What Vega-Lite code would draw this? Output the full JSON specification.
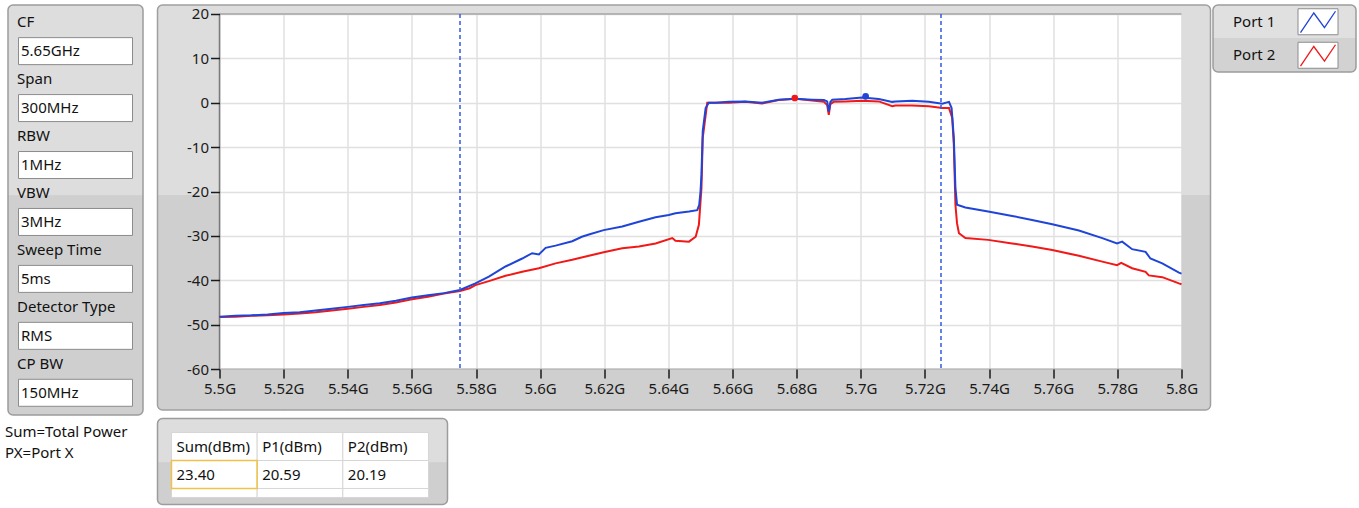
{
  "$schema": "https://vega.github.io/schema/vega-lite/v6.json",
  "background": "white",
  "padding": {"left": 5, "top": 4, "right": 2, "bottom": 0},
  "bounds": "full",
  "spacing": 12.5,
  "datasets": {
    "params": [
      {"param": "CF", "value": "5.65GHz"},
      {"param": "Span", "value": "300MHz"},
      {"param": "RBW", "value": "1MHz"},
      {"param": "VBW", "value": "3MHz"},
      {"param": "Sweep Time", "value": "5ms"},
      {"param": "Detector Type", "value": "RMS"},
      {"param": "CP BW", "value": "150MHz"}
    ],
    "notes": [
      {"note": "Sum=Total Power"},
      {"note": "PX=Port X"}
    ],
    "ports": [
      {"port": "Port 1"},
      {"port": "Port 2"}
    ],
    "results": [
      {"col": "Sum(dBm)", "val": "23.40"},
      {"col": "P1(dBm)", "val": "20.59"},
      {"col": "P2(dBm)", "val": "20.19"}
    ],
    "cursors": [
      {"f": 5.575},
      {"f": 5.725}
    ],
    "peaks": [
      {"port": "Port 2", "f": 5.6794, "db": 1.07},
      {"port": "Port 1", "f": 5.7015, "db": 1.44}
    ],
    "traces": [
      {"port": "Port 1", "f": 5.5, "db": -48.2},
      {"port": "Port 1", "f": 5.505, "db": -48.0},
      {"port": "Port 1", "f": 5.51, "db": -47.9},
      {"port": "Port 1", "f": 5.515, "db": -47.7},
      {"port": "Port 1", "f": 5.52, "db": -47.4},
      {"port": "Port 1", "f": 5.525, "db": -47.2},
      {"port": "Port 1", "f": 5.53, "db": -46.8},
      {"port": "Port 1", "f": 5.535, "db": -46.4},
      {"port": "Port 1", "f": 5.54, "db": -46.0},
      {"port": "Port 1", "f": 5.545, "db": -45.6},
      {"port": "Port 1", "f": 5.55, "db": -45.2},
      {"port": "Port 1", "f": 5.555, "db": -44.6},
      {"port": "Port 1", "f": 5.56, "db": -43.9},
      {"port": "Port 1", "f": 5.565, "db": -43.4},
      {"port": "Port 1", "f": 5.57, "db": -42.9},
      {"port": "Port 1", "f": 5.575, "db": -42.2},
      {"port": "Port 1", "f": 5.5798, "db": -40.7},
      {"port": "Port 1", "f": 5.584, "db": -39.2},
      {"port": "Port 1", "f": 5.5892, "db": -36.9},
      {"port": "Port 1", "f": 5.5944, "db": -35.1},
      {"port": "Port 1", "f": 5.5975, "db": -33.9},
      {"port": "Port 1", "f": 5.5996, "db": -34.2},
      {"port": "Port 1", "f": 5.6017, "db": -32.7},
      {"port": "Port 1", "f": 5.6048, "db": -32.2},
      {"port": "Port 1", "f": 5.61, "db": -31.2},
      {"port": "Port 1", "f": 5.613, "db": -30.2},
      {"port": "Port 1", "f": 5.6152, "db": -29.7},
      {"port": "Port 1", "f": 5.6198, "db": -28.7},
      {"port": "Port 1", "f": 5.6256, "db": -27.9},
      {"port": "Port 1", "f": 5.6308, "db": -26.8},
      {"port": "Port 1", "f": 5.636, "db": -25.8},
      {"port": "Port 1", "f": 5.6401, "db": -25.3},
      {"port": "Port 1", "f": 5.6422, "db": -24.9},
      {"port": "Port 1", "f": 5.6464, "db": -24.5},
      {"port": "Port 1", "f": 5.649, "db": -24.2},
      {"port": "Port 1", "f": 5.6496, "db": -23.0},
      {"port": "Port 1", "f": 5.65, "db": -20.0},
      {"port": "Port 1", "f": 5.6503, "db": -16.2},
      {"port": "Port 1", "f": 5.6507, "db": -6.4},
      {"port": "Port 1", "f": 5.6516, "db": -1.2},
      {"port": "Port 1", "f": 5.6526, "db": 0.0},
      {"port": "Port 1", "f": 5.6547, "db": 0.0},
      {"port": "Port 1", "f": 5.6588, "db": 0.2},
      {"port": "Port 1", "f": 5.664, "db": 0.3},
      {"port": "Port 1", "f": 5.6692, "db": 0.0},
      {"port": "Port 1", "f": 5.6744, "db": 0.7},
      {"port": "Port 1", "f": 5.6796, "db": 0.9},
      {"port": "Port 1", "f": 5.6848, "db": 0.7},
      {"port": "Port 1", "f": 5.6885, "db": 0.6},
      {"port": "Port 1", "f": 5.6895, "db": 0.3},
      {"port": "Port 1", "f": 5.69, "db": -2.0},
      {"port": "Port 1", "f": 5.6905, "db": 0.2},
      {"port": "Port 1", "f": 5.6911, "db": 0.7},
      {"port": "Port 1", "f": 5.6952, "db": 0.85},
      {"port": "Port 1", "f": 5.7004, "db": 1.2},
      {"port": "Port 1", "f": 5.7056, "db": 0.85},
      {"port": "Port 1", "f": 5.7098, "db": 0.2},
      {"port": "Port 1", "f": 5.7108, "db": 0.3},
      {"port": "Port 1", "f": 5.716, "db": 0.45},
      {"port": "Port 1", "f": 5.7212, "db": 0.2},
      {"port": "Port 1", "f": 5.7254, "db": -0.2},
      {"port": "Port 1", "f": 5.7275, "db": 0.2},
      {"port": "Port 1", "f": 5.7283, "db": -1.2},
      {"port": "Port 1", "f": 5.729, "db": -7.9},
      {"port": "Port 1", "f": 5.7295, "db": -19.2},
      {"port": "Port 1", "f": 5.73, "db": -23.0},
      {"port": "Port 1", "f": 5.7326, "db": -23.6},
      {"port": "Port 1", "f": 5.7397, "db": -24.5},
      {"port": "Port 1", "f": 5.7472, "db": -25.5},
      {"port": "Port 1", "f": 5.7534, "db": -26.4},
      {"port": "Port 1", "f": 5.7597, "db": -27.4},
      {"port": "Port 1", "f": 5.768, "db": -28.8},
      {"port": "Port 1", "f": 5.7753, "db": -30.5},
      {"port": "Port 1", "f": 5.7799, "db": -31.7},
      {"port": "Port 1", "f": 5.7815, "db": -31.3},
      {"port": "Port 1", "f": 5.7846, "db": -33.0},
      {"port": "Port 1", "f": 5.7888, "db": -33.6},
      {"port": "Port 1", "f": 5.7903, "db": -35.1},
      {"port": "Port 1", "f": 5.794, "db": -36.2},
      {"port": "Port 1", "f": 5.7992, "db": -38.3},
      {"port": "Port 1", "f": 5.8, "db": -38.5},
      {"port": "Port 2", "f": 5.5, "db": -48.3},
      {"port": "Port 2", "f": 5.505, "db": -48.2},
      {"port": "Port 2", "f": 5.51, "db": -48.0},
      {"port": "Port 2", "f": 5.515, "db": -47.9},
      {"port": "Port 2", "f": 5.52, "db": -47.7},
      {"port": "Port 2", "f": 5.525, "db": -47.5},
      {"port": "Port 2", "f": 5.53, "db": -47.2},
      {"port": "Port 2", "f": 5.535, "db": -46.8},
      {"port": "Port 2", "f": 5.54, "db": -46.4},
      {"port": "Port 2", "f": 5.545, "db": -46.0},
      {"port": "Port 2", "f": 5.55, "db": -45.6},
      {"port": "Port 2", "f": 5.555, "db": -45.0},
      {"port": "Port 2", "f": 5.56, "db": -44.3},
      {"port": "Port 2", "f": 5.565, "db": -43.7},
      {"port": "Port 2", "f": 5.57, "db": -43.0},
      {"port": "Port 2", "f": 5.575, "db": -42.4},
      {"port": "Port 2", "f": 5.578, "db": -41.8},
      {"port": "Port 2", "f": 5.5798, "db": -41.1},
      {"port": "Port 2", "f": 5.584, "db": -40.2},
      {"port": "Port 2", "f": 5.5892, "db": -39.0},
      {"port": "Port 2", "f": 5.5944, "db": -38.1},
      {"port": "Port 2", "f": 5.5996, "db": -37.3},
      {"port": "Port 2", "f": 5.6048, "db": -36.2},
      {"port": "Port 2", "f": 5.61, "db": -35.4},
      {"port": "Port 2", "f": 5.6152, "db": -34.5},
      {"port": "Port 2", "f": 5.6198, "db": -33.7},
      {"port": "Port 2", "f": 5.6256, "db": -32.8},
      {"port": "Port 2", "f": 5.6308, "db": -32.4},
      {"port": "Port 2", "f": 5.636, "db": -31.7},
      {"port": "Port 2", "f": 5.6412, "db": -30.5},
      {"port": "Port 2", "f": 5.6422, "db": -31.1},
      {"port": "Port 2", "f": 5.6464, "db": -31.3},
      {"port": "Port 2", "f": 5.6485, "db": -30.2},
      {"port": "Port 2", "f": 5.6495, "db": -27.5},
      {"port": "Port 2", "f": 5.6503, "db": -19.2},
      {"port": "Port 2", "f": 5.6507, "db": -7.9},
      {"port": "Port 2", "f": 5.6521, "db": 0.0},
      {"port": "Port 2", "f": 5.6547, "db": 0.0},
      {"port": "Port 2", "f": 5.6588, "db": 0.0},
      {"port": "Port 2", "f": 5.664, "db": 0.2},
      {"port": "Port 2", "f": 5.6692, "db": -0.15},
      {"port": "Port 2", "f": 5.6744, "db": 0.6},
      {"port": "Port 2", "f": 5.6796, "db": 0.9},
      {"port": "Port 2", "f": 5.6848, "db": 0.5},
      {"port": "Port 2", "f": 5.6885, "db": 0.2},
      {"port": "Port 2", "f": 5.6895, "db": -0.5},
      {"port": "Port 2", "f": 5.69, "db": -2.7},
      {"port": "Port 2", "f": 5.6905, "db": -0.3},
      {"port": "Port 2", "f": 5.6915, "db": 0.2},
      {"port": "Port 2", "f": 5.6952, "db": 0.3},
      {"port": "Port 2", "f": 5.7004, "db": 0.45},
      {"port": "Port 2", "f": 5.7056, "db": 0.3},
      {"port": "Port 2", "f": 5.7098, "db": -0.8},
      {"port": "Port 2", "f": 5.7108, "db": -0.6},
      {"port": "Port 2", "f": 5.716, "db": -0.6},
      {"port": "Port 2", "f": 5.7212, "db": -0.8},
      {"port": "Port 2", "f": 5.7254, "db": -1.2},
      {"port": "Port 2", "f": 5.7275, "db": -1.2},
      {"port": "Port 2", "f": 5.7285, "db": -3.4},
      {"port": "Port 2", "f": 5.729, "db": -9.5},
      {"port": "Port 2", "f": 5.7295, "db": -23.0},
      {"port": "Port 2", "f": 5.73, "db": -27.2},
      {"port": "Port 2", "f": 5.7306, "db": -29.4},
      {"port": "Port 2", "f": 5.7326, "db": -30.5},
      {"port": "Port 2", "f": 5.7397, "db": -30.9},
      {"port": "Port 2", "f": 5.7472, "db": -31.7},
      {"port": "Port 2", "f": 5.7534, "db": -32.4},
      {"port": "Port 2", "f": 5.7597, "db": -33.2},
      {"port": "Port 2", "f": 5.768, "db": -34.5},
      {"port": "Port 2", "f": 5.7753, "db": -35.8},
      {"port": "Port 2", "f": 5.7799, "db": -36.6},
      {"port": "Port 2", "f": 5.7812, "db": -36.1},
      {"port": "Port 2", "f": 5.7846, "db": -37.3},
      {"port": "Port 2", "f": 5.7888, "db": -38.1},
      {"port": "Port 2", "f": 5.7898, "db": -38.9},
      {"port": "Port 2", "f": 5.794, "db": -39.3},
      {"port": "Port 2", "f": 5.7992, "db": -40.7},
      {"port": "Port 2", "f": 5.8, "db": -40.9}
    ]
  },
  "hconcat": [
    {
      "spacing": 5,
      "bounds": "full",
      "vconcat": [
        {
          "width": 135,
          "height": 410,
          "data": {"name": "params"},
          "layer": [
            {
              "data": {"values": [{"part": "settings panel"}]},
              "mark": {
                "type": "rect",
                "cornerRadius": 5,
                "stroke": "#9c9c9c",
                "strokeWidth": 1.5,
                "fill": {"gradient": "linear", "x1": 0, "y1": 0, "x2": 0, "y2": 1,
                  "stops": [
                    {"offset": 0, "color": "#dddddd"},
                    {"offset": 0.463, "color": "#dddddd"},
                    {"offset": 0.465, "color": "#cfcfcf"},
                    {"offset": 1, "color": "#cfcfcf"}
                  ]}
              },
              "encoding": {
                "x": {"value": 0}, "x2": {"value": "width"},
                "y": {"value": 0}, "y2": {"value": "height"}
              }
            },
            {
              "mark": {"type": "text", "align": "left", "baseline": "middle", "fontSize": 15, "fill": "#111111"},
              "encoding": {
                "x": {"value": 9},
                "y": {"field": "param", "type": "nominal", "sort": null, "axis": null, "bandPosition": 0.2,
                  "scale": {"type": "band", "paddingInner": 0, "paddingOuter": 0.1}},
                "text": {"field": "param"}
              }
            },
            {
              "mark": {"type": "point", "shape": "M-1,-0.2368L1,-0.2368L1,0.2368L-1,0.2368Z", "size": 12996,
                "filled": true, "fill": "white", "stroke": "#8c8c8c", "strokeWidth": 1, "opacity": 1},
              "encoding": {
                "y": {"field": "param", "type": "nominal", "sort": null, "axis": null, "bandPosition": 0.71,
                  "scale": {"type": "band", "paddingInner": 0, "paddingOuter": 0.1}}
              }
            },
            {
              "mark": {"type": "text", "align": "left", "baseline": "middle", "fontSize": 15, "fill": "#111111"},
              "encoding": {
                "x": {"value": 13},
                "y": {"field": "param", "type": "nominal", "sort": null, "axis": null, "bandPosition": 0.71,
                  "scale": {"type": "band", "paddingInner": 0, "paddingOuter": 0.1}},
                "text": {"field": "value"}
              }
            }
          ]
        },
        {
          "width": 135,
          "height": 42,
          "data": {"name": "notes"},
          "mark": {"type": "text", "align": "left", "baseline": "middle", "fontSize": 15, "fill": "#111111"},
          "encoding": {
            "x": {"value": -3},
            "y": {"field": "note", "type": "nominal", "sort": null, "axis": null,
              "scale": {"type": "band", "paddingInner": 0, "paddingOuter": 0}},
            "text": {"field": "note"}
          }
        }
      ]
    },
    {
      "spacing": 0.5,
      "bounds": "full",
      "hconcat": [
        {
          "spacing": 6.5,
          "bounds": "full",
          "vconcat": [
            {
              "width": 1053,
              "height": 405,
              "view": {"stroke": null, "fill": "white"},
              "resolve": {"axis": {"x": "independent", "y": "independent"}},
              "layer": [
                {
                  "data": {"values": [{"part": "graph frame"}]},
                  "layer": [
                    {
                      "mark": {"type": "rect", "fill": "#dddddd", "cornerRadiusTopLeft": 5, "cornerRadiusTopRight": 5},
                      "encoding": {
                        "x": {"value": 0}, "x2": {"value": "width"},
                        "y": {"datum": 20, "type": "quantitative", "axis": null, "scale": {"domain": [-69.239, 22.028], "nice": false, "zero": false}},
                        "y2": {"value": 0}
                      }
                    },
                    {
                      "mark": {"type": "rect", "fill": "#cfcfcf", "cornerRadiusBottomLeft": 5, "cornerRadiusBottomRight": 5},
                      "encoding": {
                        "x": {"value": 0}, "x2": {"value": "width"},
                        "y": {"datum": -60, "type": "quantitative", "axis": null, "scale": {"domain": [-69.239, 22.028], "nice": false, "zero": false}},
                        "y2": {"value": "height"}
                      }
                    },
                    {
                      "mark": {"type": "rect",
                        "fill": {"gradient": "linear", "x1": 0, "y1": 0, "x2": 0, "y2": 1,
                          "stops": [
                            {"offset": 0, "color": "#dddddd"},
                            {"offset": 0.509, "color": "#dddddd"},
                            {"offset": 0.511, "color": "#cfcfcf"},
                            {"offset": 1, "color": "#cfcfcf"}
                          ]}},
                      "encoding": {
                        "x": {"datum": 5.5, "type": "quantitative", "axis": null, "scale": {"domain": [5.480665, 5.809043], "nice": false, "zero": false}},
                        "x2": {"value": 0},
                        "y": {"datum": 20, "type": "quantitative", "axis": null, "scale": {"domain": [-69.239, 22.028], "nice": false, "zero": false}},
                        "y2": {"datum": -60}
                      }
                    },
                    {
                      "mark": {"type": "rect",
                        "fill": {"gradient": "linear", "x1": 0, "y1": 0, "x2": 0, "y2": 1,
                          "stops": [
                            {"offset": 0, "color": "#dddddd"},
                            {"offset": 0.509, "color": "#dddddd"},
                            {"offset": 0.511, "color": "#cfcfcf"},
                            {"offset": 1, "color": "#cfcfcf"}
                          ]}},
                      "encoding": {
                        "x": {"datum": 5.8, "type": "quantitative", "axis": null, "scale": {"domain": [5.480665, 5.809043], "nice": false, "zero": false}},
                        "x2": {"value": "width"},
                        "y": {"datum": 20, "type": "quantitative", "axis": null, "scale": {"domain": [-69.239, 22.028], "nice": false, "zero": false}},
                        "y2": {"datum": -60}
                      }
                    },
                    {
                      "mark": {"type": "rect", "filled": false, "stroke": "#a0a0a0", "strokeWidth": 1.5, "cornerRadius": 5},
                      "encoding": {
                        "x": {"value": 0}, "x2": {"value": "width"},
                        "y": {"value": 0}, "y2": {"value": "height"}
                      }
                    },
                    {
                      "mark": {"type": "rule", "color": "#7a7a7a", "strokeWidth": 1.5},
                      "encoding": {
                        "x": {"datum": 5.5, "type": "quantitative", "axis": null, "scale": {"domain": [5.480665, 5.809043], "nice": false, "zero": false}},
                        "y": {"datum": 20, "type": "quantitative", "axis": null, "scale": {"domain": [-69.239, 22.028], "nice": false, "zero": false}},
                        "y2": {"datum": -60}
                      }
                    },
                    {
                      "mark": {"type": "rule", "color": "#8a8a8a", "strokeWidth": 1},
                      "encoding": {
                        "x": {"datum": 5.5, "type": "quantitative", "axis": null, "scale": {"domain": [5.480665, 5.809043], "nice": false, "zero": false}},
                        "x2": {"datum": 5.8},
                        "y": {"datum": 20, "type": "quantitative", "axis": null, "scale": {"domain": [-69.239, 22.028], "nice": false, "zero": false}}
                      }
                    },
                    {
                      "mark": {"type": "rule", "color": "#a8a8a8", "strokeWidth": 1},
                      "encoding": {
                        "x": {"datum": 5.5, "type": "quantitative", "axis": null, "scale": {"domain": [5.480665, 5.809043], "nice": false, "zero": false}},
                        "x2": {"datum": 5.8},
                        "y": {"datum": -60, "type": "quantitative", "axis": null, "scale": {"domain": [-69.239, 22.028], "nice": false, "zero": false}}
                      }
                    }
                  ]
                },
                {
                  "data": {"name": "traces"},
                  "transform": [{"filter": "datum.port === 'Port 2'"}],
                  "mark": {"type": "line", "strokeWidth": 2},
                  "encoding": {
                    "x": {"field": "f", "type": "quantitative",
                      "scale": {"domain": [5.480665, 5.809043], "nice": false, "zero": false},
                      "axis": {"orient": "bottom", "grid": true, "labels": false, "ticks": false, "domain": false, "title": null,
                        "values": [5.5, 5.52, 5.54, 5.56, 5.58, 5.6, 5.62, 5.64, 5.66, 5.68, 5.7, 5.72, 5.74, 5.76, 5.78, 5.8],
                        "gridColor": "#e0e0e0", "gridWidth": 1.5, "minExtent": 0, "maxExtent": 0, "zindex": 0}},
                    "y": {"field": "db", "type": "quantitative",
                      "scale": {"domain": [-69.239, 22.028], "nice": false, "zero": false},
                      "axis": {"orient": "left", "grid": true, "labels": false, "ticks": false, "domain": false, "title": null,
                        "values": [-60, -50, -40, -30, -20, -10, 0, 10, 20],
                        "gridColor": "#e0e0e0", "gridWidth": 1.5, "minExtent": 0, "maxExtent": 0, "zindex": 0}},
                    "color": {"field": "port", "type": "nominal", "legend": null,
                      "scale": {"domain": ["Port 1", "Port 2"], "range": ["#1f44d8", "#f21818"]}}
                  }
                },
                {
                  "data": {"name": "traces"},
                  "transform": [{"filter": "datum.port === 'Port 1'"}],
                  "mark": {"type": "line", "strokeWidth": 2},
                  "encoding": {
                    "x": {"field": "f", "type": "quantitative", "axis": null, "scale": {"domain": [5.480665, 5.809043], "nice": false, "zero": false}},
                    "y": {"field": "db", "type": "quantitative", "axis": null, "scale": {"domain": [-69.239, 22.028], "nice": false, "zero": false}},
                    "color": {"field": "port", "type": "nominal", "legend": null,
                      "scale": {"domain": ["Port 1", "Port 2"], "range": ["#1f44d8", "#f21818"]}}
                  }
                },
                {
                  "data": {"name": "cursors"},
                  "mark": {"type": "rule", "color": "#3358e4", "strokeDash": [4, 3], "strokeWidth": 1.5},
                  "encoding": {
                    "x": {"field": "f", "type": "quantitative", "axis": null, "scale": {"domain": [5.480665, 5.809043], "nice": false, "zero": false}},
                    "y": {"datum": 20, "type": "quantitative", "axis": null, "scale": {"domain": [-69.239, 22.028], "nice": false, "zero": false}},
                    "y2": {"datum": -60}
                  }
                },
                {
                  "data": {"name": "peaks"},
                  "mark": {"type": "point", "filled": true, "size": 45, "opacity": 1},
                  "encoding": {
                    "x": {"field": "f", "type": "quantitative",
                      "scale": {"domain": [5.480665, 5.809043], "nice": false, "zero": false},
                      "axis": {"orient": "bottom", "offset": -41, "grid": false, "domain": false, "title": null,
                        "values": [5.5, 5.52, 5.54, 5.56, 5.58, 5.6, 5.62, 5.64, 5.66, 5.68, 5.7, 5.72, 5.74, 5.76, 5.78, 5.8],
                        "labelExpr": "format(datum.value, '.4~g') + 'G'",
                        "labelFlush": false, "labelOverlap": false,
                        "labelFont": "Noto Sans", "labelFontSize": 15, "labelColor": "#1a1a1a", "labelPadding": 3,
                        "tickSize": 9, "tickColor": "#1a1a1a", "tickWidth": 1.5, "zindex": 1}},
                    "y": {"field": "db", "type": "quantitative",
                      "scale": {"domain": [-69.239, 22.028], "nice": false, "zero": false},
                      "axis": {"orient": "left", "offset": -62, "grid": false, "domain": false, "title": null,
                        "values": [-60, -50, -40, -30, -20, -10, 0, 10, 20],
                        "labelExpr": "'' + datum.value",
                        "labelFlush": false, "labelOverlap": false,
                        "labelFont": "Noto Sans", "labelFontSize": 15, "labelColor": "#1a1a1a", "labelPadding": 2,
                        "tickSize": 9, "tickColor": "#1a1a1a", "tickWidth": 1.5, "zindex": 1}},
                    "color": {"field": "port", "type": "nominal", "legend": null,
                      "scale": {"domain": ["Port 1", "Port 2"], "range": ["#1f44d8", "#f21818"]}}
                  }
                }
              ]
            },
            {
              "width": 290,
              "height": 86,
              "data": {"name": "results"},
              "layer": [
                {
                  "data": {"values": [{"part": "results panel"}]},
                  "mark": {
                    "type": "rect",
                    "cornerRadius": 5,
                    "stroke": "#9c9c9c",
                    "strokeWidth": 1.5,
                    "fill": {"gradient": "linear", "x1": 0, "y1": 0, "x2": 0, "y2": 1,
                      "stops": [
                        {"offset": 0, "color": "#dddddd"},
                        {"offset": 0.51, "color": "#dddddd"},
                        {"offset": 0.512, "color": "#cfcfcf"},
                        {"offset": 1, "color": "#cfcfcf"}
                      ]}
                  },
                  "encoding": {
                    "x": {"value": 0}, "x2": {"value": "width"},
                    "y": {"value": 0}, "y2": {"value": "height"}
                  }
                },
                {
                  "mark": {"type": "rect", "fill": "white", "stroke": "#d6d6d6", "strokeWidth": 1},
                  "encoding": {
                    "x": {"field": "col", "type": "nominal", "sort": null, "axis": null,
                      "scale": {"type": "band", "range": [14, 271], "paddingInner": 0, "paddingOuter": 0}},
                    "y": {"datum": "header", "type": "nominal", "axis": null,
                      "scale": {"type": "band", "domain": ["header", "value", "blank"], "range": [14, 98], "paddingInner": 0, "paddingOuter": 0}}
                  }
                },
                {
                  "mark": {"type": "rect", "fill": "white", "stroke": "#d6d6d6", "strokeWidth": 1},
                  "encoding": {
                    "x": {"field": "col", "type": "nominal", "sort": null, "axis": null,
                      "scale": {"type": "band", "range": [14, 271], "paddingInner": 0, "paddingOuter": 0}},
                    "y": {"datum": "value", "type": "nominal", "axis": null,
                      "scale": {"type": "band", "domain": ["header", "value", "blank"], "range": [14, 98], "paddingInner": 0, "paddingOuter": 0}}
                  }
                },
                {
                  "mark": {"type": "point", "shape": "M-1,-0.105L1,-0.105L1,0.105L-1,0.105Z", "size": 7340,
                    "filled": true, "fill": "white", "stroke": "#d6d6d6", "strokeWidth": 1, "opacity": 1},
                  "encoding": {
                    "x": {"field": "col", "type": "nominal", "sort": null, "axis": null, "bandPosition": 0.5,
                      "scale": {"type": "band", "range": [14, 271], "paddingInner": 0, "paddingOuter": 0}},
                    "y": {"datum": "blank", "type": "nominal", "axis": null, "bandPosition": 0.16,
                      "scale": {"type": "band", "domain": ["header", "value", "blank"], "range": [14, 98], "paddingInner": 0, "paddingOuter": 0}}
                  }
                },
                {
                  "transform": [{"filter": "datum.col === 'Sum(dBm)'"}],
                  "mark": {"type": "rect", "filled": false, "stroke": "#f0c24a", "strokeWidth": 1.5},
                  "encoding": {
                    "x": {"field": "col", "type": "nominal", "sort": null, "axis": null,
                      "scale": {"type": "band", "range": [14, 271], "paddingInner": 0, "paddingOuter": 0}},
                    "y": {"datum": "value", "type": "nominal", "axis": null,
                      "scale": {"type": "band", "domain": ["header", "value", "blank"], "range": [14, 98], "paddingInner": 0, "paddingOuter": 0}}
                  }
                },
                {
                  "mark": {"type": "text", "align": "left", "baseline": "middle", "dx": 5, "fontSize": 15, "fill": "#111111"},
                  "encoding": {
                    "x": {"field": "col", "type": "nominal", "sort": null, "axis": null, "bandPosition": 0,
                      "scale": {"type": "band", "range": [14, 271], "paddingInner": 0, "paddingOuter": 0}},
                    "y": {"datum": "header", "type": "nominal", "axis": null, "bandPosition": 0.5,
                      "scale": {"type": "band", "domain": ["header", "value", "blank"], "range": [14, 98], "paddingInner": 0, "paddingOuter": 0}},
                    "text": {"field": "col"}
                  }
                },
                {
                  "mark": {"type": "text", "align": "left", "baseline": "middle", "dx": 5, "fontSize": 15, "fill": "#111111"},
                  "encoding": {
                    "x": {"field": "col", "type": "nominal", "sort": null, "axis": null, "bandPosition": 0,
                      "scale": {"type": "band", "range": [14, 271], "paddingInner": 0, "paddingOuter": 0}},
                    "y": {"datum": "value", "type": "nominal", "axis": null, "bandPosition": 0.5,
                      "scale": {"type": "band", "domain": ["header", "value", "blank"], "range": [14, 98], "paddingInner": 0, "paddingOuter": 0}},
                    "text": {"field": "val"}
                  }
                }
              ]
            }
          ]
        },
        {
          "width": 143,
          "height": 67,
          "data": {"name": "ports"},
          "layer": [
            {
              "data": {"values": [{"part": "legend panel"}]},
              "mark": {
                "type": "rect",
                "cornerRadius": 5,
                "stroke": "#9c9c9c",
                "strokeWidth": 1.5,
                "fill": {"gradient": "linear", "x1": 0, "y1": 0, "x2": 0, "y2": 1,
                  "stops": [
                    {"offset": 0, "color": "#e0e0e0"},
                    {"offset": 0.49, "color": "#e0e0e0"},
                    {"offset": 0.495, "color": "#d2d2d2"},
                    {"offset": 1, "color": "#d2d2d2"}
                  ]}
              },
              "encoding": {
                "x": {"value": 0}, "x2": {"value": "width"},
                "y": {"value": 0}, "y2": {"value": "height"}
              }
            },
            {
              "mark": {"type": "text", "align": "left", "baseline": "middle", "fontSize": 15, "fill": "#111111"},
              "encoding": {
                "x": {"value": 20},
                "y": {"field": "port", "type": "nominal", "sort": null, "axis": null, "bandPosition": 0.5,
                  "scale": {"type": "band", "paddingInner": 0, "paddingOuter": 0}},
                "text": {"field": "port"}
              }
            },
            {
              "mark": {"type": "point", "shape": "M-1,-0.65L1,-0.65L1,0.65L-1,0.65Z", "size": 1600,
                "filled": true, "fill": "white", "stroke": "#8c8c8c", "strokeWidth": 1, "opacity": 1},
              "encoding": {
                "x": {"value": 105},
                "y": {"field": "port", "type": "nominal", "sort": null, "axis": null, "bandPosition": 0.5,
                  "scale": {"type": "band", "paddingInner": 0, "paddingOuter": 0}}
              }
            },
            {
              "mark": {"type": "point", "shape": "M-1,0.62L-0.24,-0.5L0.37,0.33L1,-0.6", "size": 1225,
                "filled": false, "strokeWidth": 1.3, "opacity": 1},
              "encoding": {
                "x": {"value": 105},
                "y": {"field": "port", "type": "nominal", "sort": null, "axis": null, "bandPosition": 0.5,
                  "scale": {"type": "band", "paddingInner": 0, "paddingOuter": 0}},
                "color": {"field": "port", "type": "nominal", "legend": null,
                  "scale": {"domain": ["Port 1", "Port 2"], "range": ["#1f44d8", "#f21818"]}}
              }
            }
          ]
        }
      ]
    }
  ],
  "config": {
    "font": "Noto Sans",
    "view": {"stroke": null},
    "text": {"font": "Noto Sans", "fontSize": 15},
    "axis": {"labelFont": "Noto Sans"}
  }
}
